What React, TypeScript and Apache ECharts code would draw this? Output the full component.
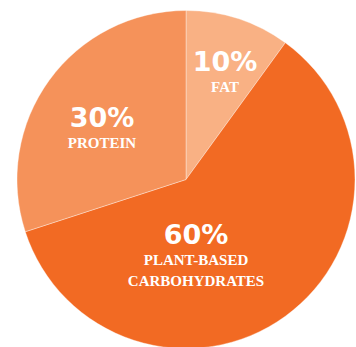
import React, { useEffect, useRef } from "react";
import * as echarts from "echarts";

const categories = ["FAT", "PLANT-BASED\nCARBOHYDRATES", "PROTEIN"];
const values = [10, 60, 30];
const colors = ["#F9B184", "#F26A23", "#F5925A"];
const labelPos: [number, number][] = [
  [225, 72],
  [196, 255],
  [102, 128],
];

export default function App() {
  const ref = useRef<HTMLDivElement>(null);
  useEffect(() => {
    if (!ref.current) return;
    const chart = echarts.init(ref.current, null, { renderer: "svg" });
    chart.setOption({
      animation: false,
      series: [
        {
          type: "pie",
          center: [186, 179.5],
          radius: [0, 169],
          startAngle: 90,
          clockwise: true,
          silent: true,
          itemStyle: { borderColor: "rgba(255,255,255,0.45)", borderWidth: 0.8 },
          label: {
            show: true,
            position: "inside",
            formatter: (p: any) => {
              const lines = String(p.name).split("\n").map((l) => `{name|${l}}`).join("\n");
              return `{pct|${p.value}%}\n${lines}`;
            },
            rich: {
              pct: {
                fontFamily: "DejaVu Sans",
                fontWeight: "bold",
                fontSize: 27,
                color: "#fff",
                lineHeight: 30,
                align: "center",
              },
              name: {
                fontFamily: "Liberation Serif",
                fontWeight: "bold",
                fontSize: 15,
                color: "#fff",
                lineHeight: 21,
                align: "center",
              },
            },
          },
          labelLine: { show: false },
          labelLayout: (params: any) => {
            const pos = labelPos[params.dataIndex];
            return { x: pos[0], y: pos[1], align: "center", verticalAlign: "middle" };
          },
          data: categories.map((c, i) => ({
            name: c,
            value: values[i],
            itemStyle: { color: colors[i] },
          })),
        },
      ],
    });
    return () => chart.dispose();
  }, []);
  return (
    <div
      ref={ref}
      style={{ position: "absolute", left: 0, top: 0, width: 356, height: 347 }}
    />
  );
}
